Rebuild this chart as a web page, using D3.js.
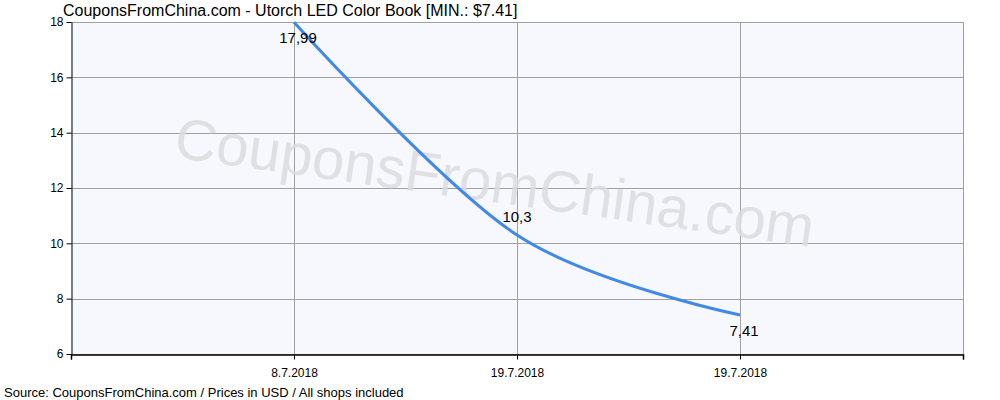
<!DOCTYPE html>
<html><head><meta charset="utf-8">
<script src="https://cdn.jsdelivr.net/npm/d3@7"></script>
<style>body{margin:0;background:#fff}svg{display:block}text{font-family:"Liberation Sans",Arial,sans-serif}</style>
</head><body><svg id="c" width="1000" height="400"></svg>
<script>
const categories = ["8.7.2018","19.7.2018","19.7.2018 "];
const prices = [17.99, 10.3, 7.41];
const priceLabels = ["17,99","10,3","7,41"];
const yTicks = [6,8,10,12,14,16,18];
const title = "CouponsFromChina.com - Utorch LED Color Book [MIN.: $7.41]";
const source = "Source: CouponsFromChina.com / Prices in USD / All shops included";

const svg = d3.select("#c");
const L=71,R=963,T=22,B=354;
const x = d3.scalePoint().domain(categories).range([L,R]).padding(1);
const y = d3.scaleLinear().domain([6,18]).range([B,T]);

svg.append("rect").attr("x",L).attr("y",T).attr("width",R-L).attr("height",B-T).attr("fill","#f7f8fd");
const g = svg.append("g").attr("stroke","#a0a0a0").attr("stroke-width",1);
yTicks.forEach(t=>g.append("line").attr("x1",L).attr("x2",R).attr("y1",Math.round(y(t))+.5).attr("y2",Math.round(y(t))+.5));
categories.forEach(c=>g.append("line").attr("x1",Math.round(x(c))+.5).attr("x2",Math.round(x(c))+.5).attr("y1",T).attr("y2",B));
g.append("line").attr("x1",R+.5).attr("x2",R+.5).attr("y1",T).attr("y2",B);

svg.append("text").attr("transform","translate(492,202) rotate(8)").attr("text-anchor","middle")
 .attr("font-size",58).attr("fill","#dcdce0").attr("opacity",0.85).text("CouponsFromChina.com");

const ya = svg.append("g").attr("transform",`translate(${L+.5},0)`).call(d3.axisLeft(y).tickValues(yTicks).tickSize(5).tickSizeOuter(0));
ya.select(".domain").attr("stroke","#000");
ya.selectAll("text").attr("font-size",12).attr("fill","#000");
const xa = svg.append("g").attr("transform",`translate(0,${B+.5})`)
 .call(d3.axisBottom(x).tickSize(5).tickSizeOuter(5).tickFormat(d=>d.trim()));
xa.select(".domain").attr("stroke","#000").attr("stroke-width",1.5);
xa.selectAll("text").attr("font-size",12).attr("fill","#000").attr("dy","1.2em");
[L,R].forEach(v=>xa.append("line").attr("x1",v+.5).attr("x2",v+.5).attr("y1",0).attr("y2",5).attr("stroke","#000"));

const line = d3.line().x((d,i)=>x(categories[i])).y(d=>y(d)).curve(d3.curveCardinal.tension(0));
svg.append("path").datum(prices).attr("d",line).attr("fill","none").attr("stroke","#4189e8").attr("stroke-width",3);

prices.forEach((p,i)=>svg.append("text").attr("x",x(categories[i])+(i==1?0:4)).attr("y",y(p)+(i==1?-13:21)).attr("text-anchor","middle")
 .attr("font-size",15).attr("fill","#000").text(priceLabels[i]));

svg.append("text").attr("x",63).attr("y",16).attr("font-size",16).attr("fill","#000").text(title);
svg.append("text").attr("x",4).attr("y",397).attr("font-size",13).attr("fill","#000").text(source);
</script></body></html>
